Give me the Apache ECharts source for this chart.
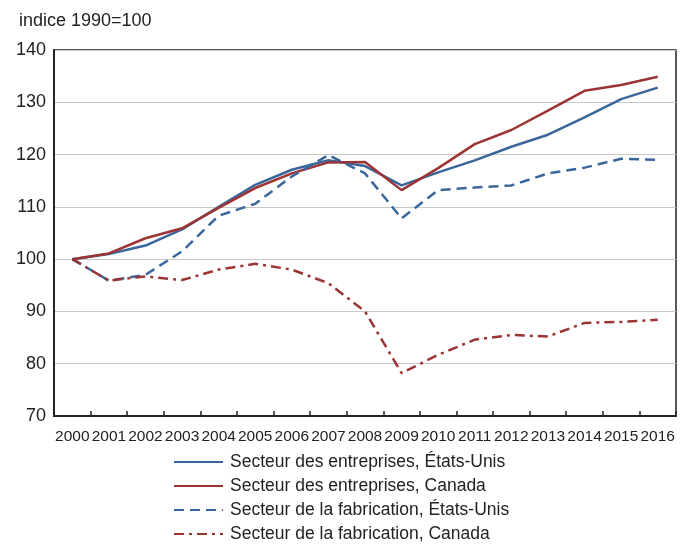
<!DOCTYPE html>
<html>
<head>
<meta charset="utf-8">
<script src="https://cdn.jsdelivr.net/npm/echarts@6/dist/echarts.min.js"></script>
<style>
  html, body { margin: 0; padding: 0; background: #fff; }
  #chart { width: 691px; height: 544px; }
</style>
</head>
<body>
<div id="chart"></div>
<script>
// données (indice 1990=100)
var annees = ['2000','2001','2002','2003','2004','2005','2006','2007','2008',
              '2009','2010','2011','2012','2013','2014','2015','2016'];
var entreprisesEU = [100, 101.0, 102.6, 105.7, 110.0, 114.2, 117.1, 118.9, 117.8,
                     114.1, 116.6, 118.9, 121.5, 123.8, 127.1, 130.6, 132.8];
var entreprisesCA = [100, 101.1, 104.0, 105.9, 109.8, 113.6, 116.4, 118.5, 118.6,
                     113.2, 117.4, 122.0, 124.7, 128.4, 132.2, 133.3, 134.9];
var fabricationEU = [100, 95.9, 97.0, 101.5, 108.3, 110.6, 115.8, 119.9, 116.4,
                     107.8, 113.2, 113.7, 114.1, 116.4, 117.5, 119.2, 119.0];
var fabricationCA = [100, 95.9, 96.7, 96.0, 98.0, 99.1, 98.0, 95.4, 90.0,
                     78.2, 81.7, 84.6, 85.5, 85.2, 87.8, 88.0, 88.4];

var bleu = '#3a669c';
var rouge = '#9c3434';
var police = '"Liberation Sans", Arial, sans-serif';

var myChart = echarts.init(document.getElementById('chart'));
var option = {
    animation: false,
    title: {
        text: 'indice 1990=100',
        left: 14,
        top: 7,
        textStyle: { fontFamily: police, fontSize: 18, fontWeight: 'normal', color: '#222' }
    },
    grid: {
        left: 54, right: 15, top: 50, bottom: 128,
        show: true, borderColor: '#222', borderWidth: 1.5
    },
    legend: {
        orient: 'vertical',
        left: 173,
        top: 453,
        height: 100,
        padding: 0,
        itemWidth: 49,
        itemHeight: 12,
        itemGap: 6,
        itemStyle: { opacity: 0 },
        textStyle: { fontFamily: police, fontSize: 17.5, lineHeight: 18, color: '#222', padding: [0, 0, 0, 2] },
        data: ['Secteur des entreprises, États-Unis', 'Secteur des entreprises, Canada',
               'Secteur de la fabrication, États-Unis', 'Secteur de la fabrication, Canada']
    },
    xAxis: {
        type: 'category',
        data: annees,
        boundaryGap: true,
        axisLine: { lineStyle: { color: '#222', width: 2 } },
        axisTick: { show: true, inside: true, length: 5, lineStyle: { color: '#222', width: 1.5 } },
        axisLabel: { fontFamily: police, fontSize: 15.5, color: '#222', margin: 13, interval: 0 }
    },
    yAxis: {
        type: 'value',
        min: 70, max: 140, interval: 10,
        axisLine: { show: true, lineStyle: { color: '#222', width: 2 } },
        axisTick: { show: false },
        axisLabel: { fontFamily: police, fontSize: 18, color: '#222', margin: 8 },
        splitLine: { lineStyle: { color: '#c8c8c8', width: 1 } }
    },
    series: [
        {
            name: 'Secteur des entreprises, États-Unis', type: 'line', data: entreprisesEU,
            symbol: 'none', color: bleu, lineStyle: { width: 2.5, color: bleu }
        },
        {
            name: 'Secteur des entreprises, Canada', type: 'line', data: entreprisesCA,
            symbol: 'none', color: rouge, lineStyle: { width: 2.5, color: rouge }
        },
        {
            name: 'Secteur de la fabrication, États-Unis', type: 'line', data: fabricationEU,
            symbol: 'none', color: bleu, lineStyle: { width: 2.5, color: bleu, type: [10, 6] }
        },
        {
            name: 'Secteur de la fabrication, Canada', type: 'line', data: fabricationCA,
            symbol: 'none', color: rouge, lineStyle: { width: 2.5, color: rouge, type: [10, 5, 3, 5] }
        }
    ]
};
myChart.setOption(option);
</script>
</body>
</html>
